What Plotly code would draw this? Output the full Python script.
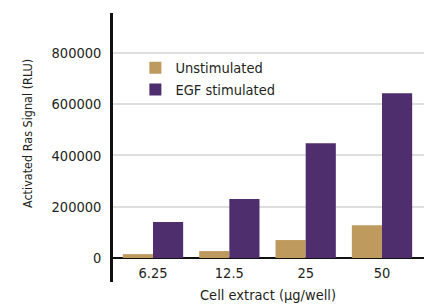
import plotly.graph_objects as go

categories = ["6.25", "12.5", "25", "50"]
unstimulated = [15000, 27000, 70000, 128000]
egf_stimulated = [140000, 230000, 448000, 643000]
y_ticks = [0, 200000, 400000, 600000, 800000]
y_range = [-93700, 956000]

FONT = "DejaVu Sans Condensed, Liberation Sans Narrow, Roboto, sans-serif"
TXT = "#231f20"
F = dict(family=FONT, size=14.5, color=TXT)

fig = go.Figure()
fig.add_trace(go.Bar(x=categories, y=unstimulated, name="Unstimulated",
                     marker=dict(color="#BE9A5E", line=dict(width=0))))
fig.add_trace(go.Bar(x=categories, y=egf_stimulated, name="EGF stimulated",
                     marker=dict(color="#4F2E6E", line=dict(width=0))))

zero_frac = -y_range[0] / (y_range[1] - y_range[0])

fig.update_layout(
    width=431, height=305,
    margin=dict(l=113, r=7, t=13, b=23),
    paper_bgcolor="white", plot_bgcolor="white",
    barmode="group", bargap=0.21, bargroupgap=0,
    font=F,
    showlegend=True,
    legend=dict(x=0.072, y=0.856, xanchor="left", yanchor="top",
                bgcolor="rgba(0,0,0,0)", font=F,
                itemclick=False, tracegroupgap=0),
    xaxis=dict(range=[-0.524, 3.55], showgrid=False, showline=False,
               zeroline=False, ticks="", anchor="free", position=zero_frac,
               automargin=False, ticklabelstandoff=5, tickfont=F),
    yaxis=dict(range=y_range, tickvals=y_ticks,
               ticktext=[str(v) for v in y_ticks],
               showgrid=True, gridcolor="#dedede", gridwidth=1.5,
               zeroline=True, zerolinecolor="#111", zerolinewidth=2,
               showline=True, linecolor="#111", linewidth=2.5,
               ticks="", ticklabelstandoff=6, automargin=False,
               tickfont=F),
    annotations=[
        dict(text="Activated Ras Signal (RLU)", textangle=-90,
             xref="paper", yref="paper", x=-0.2765, y=0.55,
             xanchor="center", yanchor="middle", showarrow=False,
             font=dict(family=FONT, size=12.5, color=TXT)),
        dict(text="Cell extract (µg/well)",
             xref="paper", yref="paper", x=0.497, y=-0.048,
             xanchor="center", yanchor="middle", showarrow=False, font=F),
    ],
)

fig.write_html("out.html", config={"displayModeBar": False},
               post_script="document.body.style.margin='0';document.body.style.overflow='hidden';")
